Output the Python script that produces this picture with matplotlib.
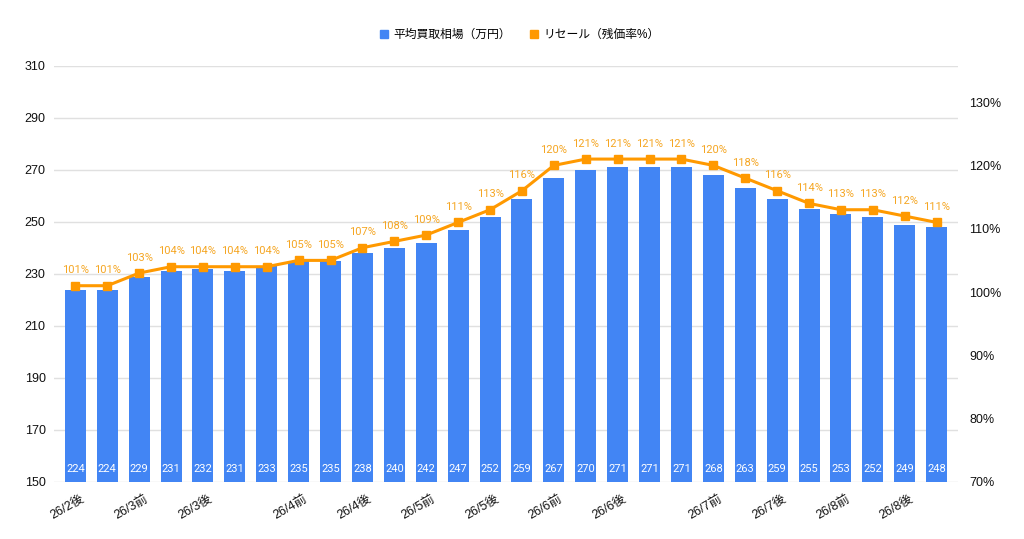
import numpy as np
import matplotlib
matplotlib.use("Agg")
import matplotlib.pyplot as plt
import matplotlib.transforms as mtransforms
from matplotlib.lines import Line2D

plt.rcParams['font.family'] = ['Liberation Sans', 'Noto Sans CJK JP', 'DejaVu Sans']

# data
prices = [224, 224, 229, 231, 232, 231, 233, 235, 235, 238, 240, 242, 247, 252,
          259, 267, 270, 271, 271, 271, 268, 263, 259, 255, 253, 252, 249, 248]
resale = [101, 101, 103, 104, 104, 104, 104, 105, 105, 107, 108, 109, 111, 113,
          116, 120, 121, 121, 121, 121, 120, 118, 116, 114, 113, 113, 112, 111]
xlabels = ['26/2後', '', '26/3前', '', '26/3後', '', '', '26/4前', '', '26/4後',
           '', '26/5前', '', '26/5後', '', '26/6前', '', '26/6後', '', '',
           '26/7前', '', '26/7後', '', '26/8前', '', '26/8後', '']
left_ticks = [150, 170, 190, 210, 230, 250, 270, 290, 310]
right_ticks = [70, 80, 90, 100, 110, 120, 130]

blue = '#4285F4'
orange = '#FF9900'

W, H = 1024, 539
fig = plt.figure(figsize=(W / 100, H / 100), dpi=100)
ax = fig.add_axes([54 / W, 1 - 482 / H, (958 - 54) / W, (482 - 66) / H])
x = np.arange(len(prices))

ax.bar(x, prices, width=0.66, color=blue, zorder=2)
ax.set_ylim(150, 310)
ax.set_xlim(-0.67, len(prices) - 0.33)
ax.set_yticks(left_ticks)
ax.grid(axis='y', color='#e0e0e0', linewidth=1, zorder=0)
ax.set_axisbelow(True)
for s in ax.spines.values():
    s.set_visible(False)
ax.tick_params(axis='both', length=0, labelsize=9, colors='#111111')
ax.tick_params(axis='y', pad=6)
ax.set_xticks(x)
ax.set_xticklabels(xlabels, rotation=30, ha='right', rotation_mode='anchor', fontsize=9)
ax.tick_params(axis='x', pad=8)
shift = mtransforms.ScaledTranslation(5 / 100, 0, fig.dpi_scale_trans)
for lab in ax.get_xticklabels():
    lab.set_transform(lab.get_transform() + shift)

for i, v in enumerate(prices):
    ax.annotate(str(v), (i, 150), xytext=(0, 9), textcoords='offset points',
                ha='center', va='center', color='white', fontsize=8,
                family='Roboto', zorder=3)

ax2 = ax.twinx()
ax2.set_ylim(70, 135.7)
ax2.set_yticks(right_ticks)
ax2.set_yticklabels([f'{t}%' for t in right_ticks])
for s in ax2.spines.values():
    s.set_visible(False)
ax2.tick_params(axis='y', length=0, labelsize=9, colors='#111111', pad=8)
ax2.plot(x, resale, color=orange, linewidth=2.2, marker='s', markersize=5.8, zorder=4)
for i, v in enumerate(resale):
    ax2.annotate(f'{v}%', (i, v), xytext=(0, 11), textcoords='offset points',
                 ha='center', va='center', color='#F5A623', fontsize=8,
                 family='Roboto', zorder=5)

handles = [Line2D([], [], linestyle='none', marker='s', markersize=6, color=blue),
           Line2D([], [], linestyle='none', marker='s', markersize=6, color=orange)]
fig.legend(handles, ['平均買取相場（万円）', 'リセール（残価率%）'],
           loc='center', bbox_to_anchor=(0.5 + 7 / W, 1 - 35 / H), ncol=2, frameon=False,
           fontsize=8.5, handletextpad=0.3, columnspacing=1.5, handlelength=1)

fig.savefig('out.png', dpi=100)
